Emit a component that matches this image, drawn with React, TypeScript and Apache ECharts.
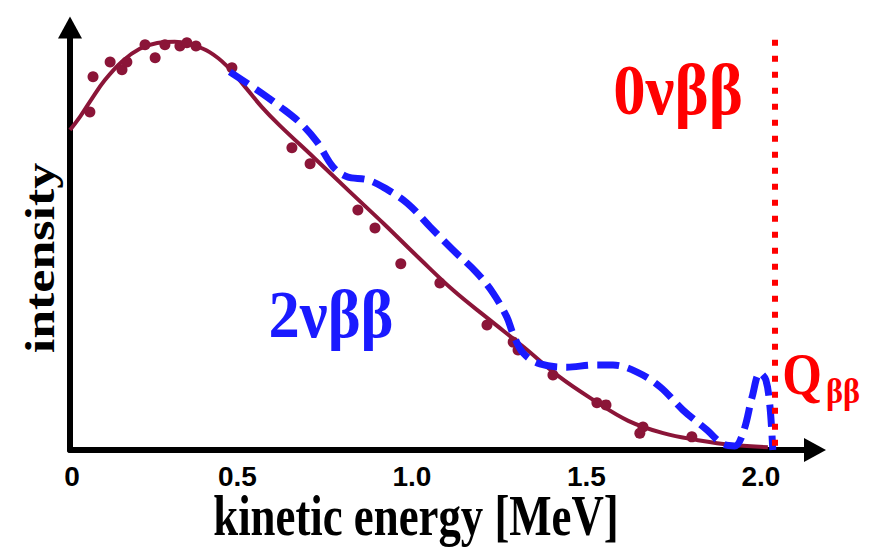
import React, { useEffect, useRef } from "react";
import * as echarts from "echarts";

// Fitted spectrum (maroon curve)
const fitEnergy = [0, 0.03, 0.06, 0.1, 0.15, 0.2, 0.25, 0.3, 0.35, 0.4, 0.45, 0.5, 0.55, 0.6, 0.7, 0.8, 0.9, 1.0, 1.1, 1.2, 1.3, 1.4, 1.5, 1.6, 1.7, 1.8, 1.9, 2.0];
const fitIntensity = [78.0, 81.4, 85.3, 90.2, 94.8, 97.8, 99.2, 99.5, 98.7, 97.0, 93.6, 88.7, 83.6, 79.2, 71.2, 63.1, 55.1, 46.8, 38.8, 31.9, 25.1, 18.0, 12.2, 7.1, 4.1, 2.4, 1.2, 0.7];

// Measured points (maroon dots)
const dataEnergy = [0.057, 0.066, 0.115, 0.149, 0.163, 0.215, 0.244, 0.272, 0.315, 0.335, 0.361, 0.464, 0.636, 0.688, 0.825, 0.874, 0.948, 1.06, 1.195, 1.27, 1.284, 1.384, 1.51, 1.536, 1.642, 1.633, 1.782];
const dataIntensity = [82.4, 91.0, 94.6, 92.7, 94.6, 98.8, 95.6, 98.8, 98.5, 99.3, 98.5, 93.2, 73.7, 69.8, 58.5, 54.1, 45.4, 40.7, 30.5, 26.3, 24.4, 18.3, 11.5, 11.0, 5.6, 4.1, 3.2];

// 2νββ sketch (blue dashed)
const twoNuEnergy = [0.458, 0.544, 0.602, 0.659, 0.708, 0.754, 0.794, 0.851, 0.897, 0.966, 1.032, 1.097, 1.166, 1.212, 1.252, 1.269, 1.298, 1.347, 1.424, 1.499, 1.556, 1.625, 1.691, 1.756, 1.825, 1.87, 1.905, 1.93, 1.955, 1.977, 1.994, 2.006, 2.014];
const twoNuIntensity = [92.2, 87.3, 83.7, 79.8, 75.1, 69.0, 66.6, 65.9, 64.1, 60.2, 54.4, 48.8, 43.2, 38.3, 32.4, 28.5, 23.7, 21.0, 20.2, 20.7, 20.7, 19.0, 15.4, 9.8, 4.9, 1.5, 1.0, 4.5, 13.0, 18.8, 17.1, 10.5, 0];

// Q value line
const qValue = 2.02;
const qTop = 100;

const xTicks = [0, 0.5, 1.0, 1.5, 2.0];
const xTickLabels = ["0", "0.5", "1.0", "1.5", "2.0"];

const MAROON = "#8b1538";
const BLUE = "#1a1aff";
const RED = "#ff0000";
const SERIF = "'Liberation Serif', 'Times New Roman', serif";
const SANS = "'Liberation Sans', Arial, sans-serif";

export default function App() {
  const ref = useRef<HTMLDivElement>(null);
  useEffect(() => {
    if (!ref.current) return;
    const chart = echarts.init(ref.current, null, { renderer: "svg" });
    const zip = (xs: number[], ys: number[]) => xs.map((x, i) => [x, ys[i]]);
    chart.setOption({
      animation: false,
      backgroundColor: "#ffffff",
      grid: { left: 70, right: 63, top: 27.5, bottom: 102 },
      xAxis: {
        type: "value",
        min: 0,
        max: 2.135,
        interval: 0.5,
        splitLine: { show: false },
        axisTick: { show: false },
        axisLine: {
          show: true,
          symbol: ["none", "triangle"],
          symbolSize: [24, 22],
          lineStyle: { color: "#000", width: 6 },
        },
        axisLabel: {
          showMaxLabel: false,
          margin: 12,
          formatter: (v: number) => {
            const i = xTicks.findIndex((t) => Math.abs(t - v) < 1e-6);
            if (i < 0) return "";
            return i === 0 ? `{z|${xTickLabels[i]}}` : `{t|${xTickLabels[i]}}`;
          },
          rich: {
            z: { fontFamily: SANS, fontWeight: "bold", fontSize: 28, color: "#000", padding: [0, 0, 0, 4] },
            t: { fontFamily: SANS, fontWeight: "bold", fontSize: 28, color: "#000", padding: [0, 14, 0, 0] },
          },
        },
      },
      yAxis: {
        type: "value",
        min: 0,
        max: 103,
        splitLine: { show: false },
        axisTick: { show: false },
        axisLabel: { show: false },
        axisLine: {
          show: true,
          symbol: ["none", "triangle"],
          symbolSize: [24, 22],
          lineStyle: { color: "#000", width: 6 },
        },
      },
      series: [
        {
          name: "fit",
          type: "line",
          data: zip(fitEnergy, fitIntensity),
          smooth: 0.4,
          showSymbol: false,
          lineStyle: { color: MAROON, width: 4 },
          z: 2,
        },
        {
          name: "data",
          type: "scatter",
          data: zip(dataEnergy, dataIntensity),
          symbol: "circle",
          symbolSize: 11,
          itemStyle: { color: MAROON, opacity: 1 },
          z: 3,
          markLine: {
            silent: true,
            symbol: ["none", "none"],
            label: { show: false },
            lineStyle: { color: RED, width: 6, type: [6, 10] },
            data: [[{ coord: [qValue, qTop] }, { coord: [qValue, 0] }]],
          },
        },
        {
          name: "2νββ",
          type: "line",
          data: zip(twoNuEnergy, twoNuIntensity),
          smooth: 0.35,
          showSymbol: false,
          lineStyle: { color: BLUE, width: 7, type: [22, 9] },
          z: 4,
        },
      ],
      graphic: [
        {
          type: "text",
          x: 40,
          y: 258,
          rotation: Math.PI / 2,
          scaleY: 0.8,
          style: { text: "intensity", fontFamily: SERIF, fontWeight: "bold", fontSize: 52, fill: "#000", align: "center", verticalAlign: "middle" },
        },
        {
          type: "text",
          x: 416,
          y: 516,
          scaleX: 0.8,
          style: { text: "kinetic energy [MeV]", fontFamily: SERIF, fontWeight: "bold", fontSize: 56, fill: "#000", align: "center", verticalAlign: "middle" },
        },
        {
          type: "text",
          x: 678,
          y: 90,
          scaleX: 0.9,
          style: { text: "0νββ", fontFamily: SERIF, fontWeight: "bold", fontSize: 72, fill: RED, align: "center", verticalAlign: "middle" },
        },
        {
          type: "text",
          x: 331,
          y: 314,
          scaleX: 0.92,
          style: { text: "2νββ", fontFamily: SERIF, fontWeight: "bold", fontSize: 68, fill: BLUE, align: "center", verticalAlign: "middle" },
        },
        {
          type: "text",
          x: 802,
          y: 374,
          scaleX: 0.85,
          style: { text: "Q", fontFamily: SERIF, fontWeight: "bold", fontSize: 60, fill: RED, align: "center", verticalAlign: "middle" },
        },
        {
          type: "text",
          x: 843,
          y: 390,
          scaleX: 0.9,
          style: { text: "ββ", fontFamily: SERIF, fontWeight: "bold", fontSize: 36, fill: RED, align: "center", verticalAlign: "middle" },
        },
      ],
    });
    return () => chart.dispose();
  }, []);
  return <div ref={ref} style={{ position: "fixed", left: 0, top: 0, width: 878, height: 552, background: "#fff" }} />;
}
